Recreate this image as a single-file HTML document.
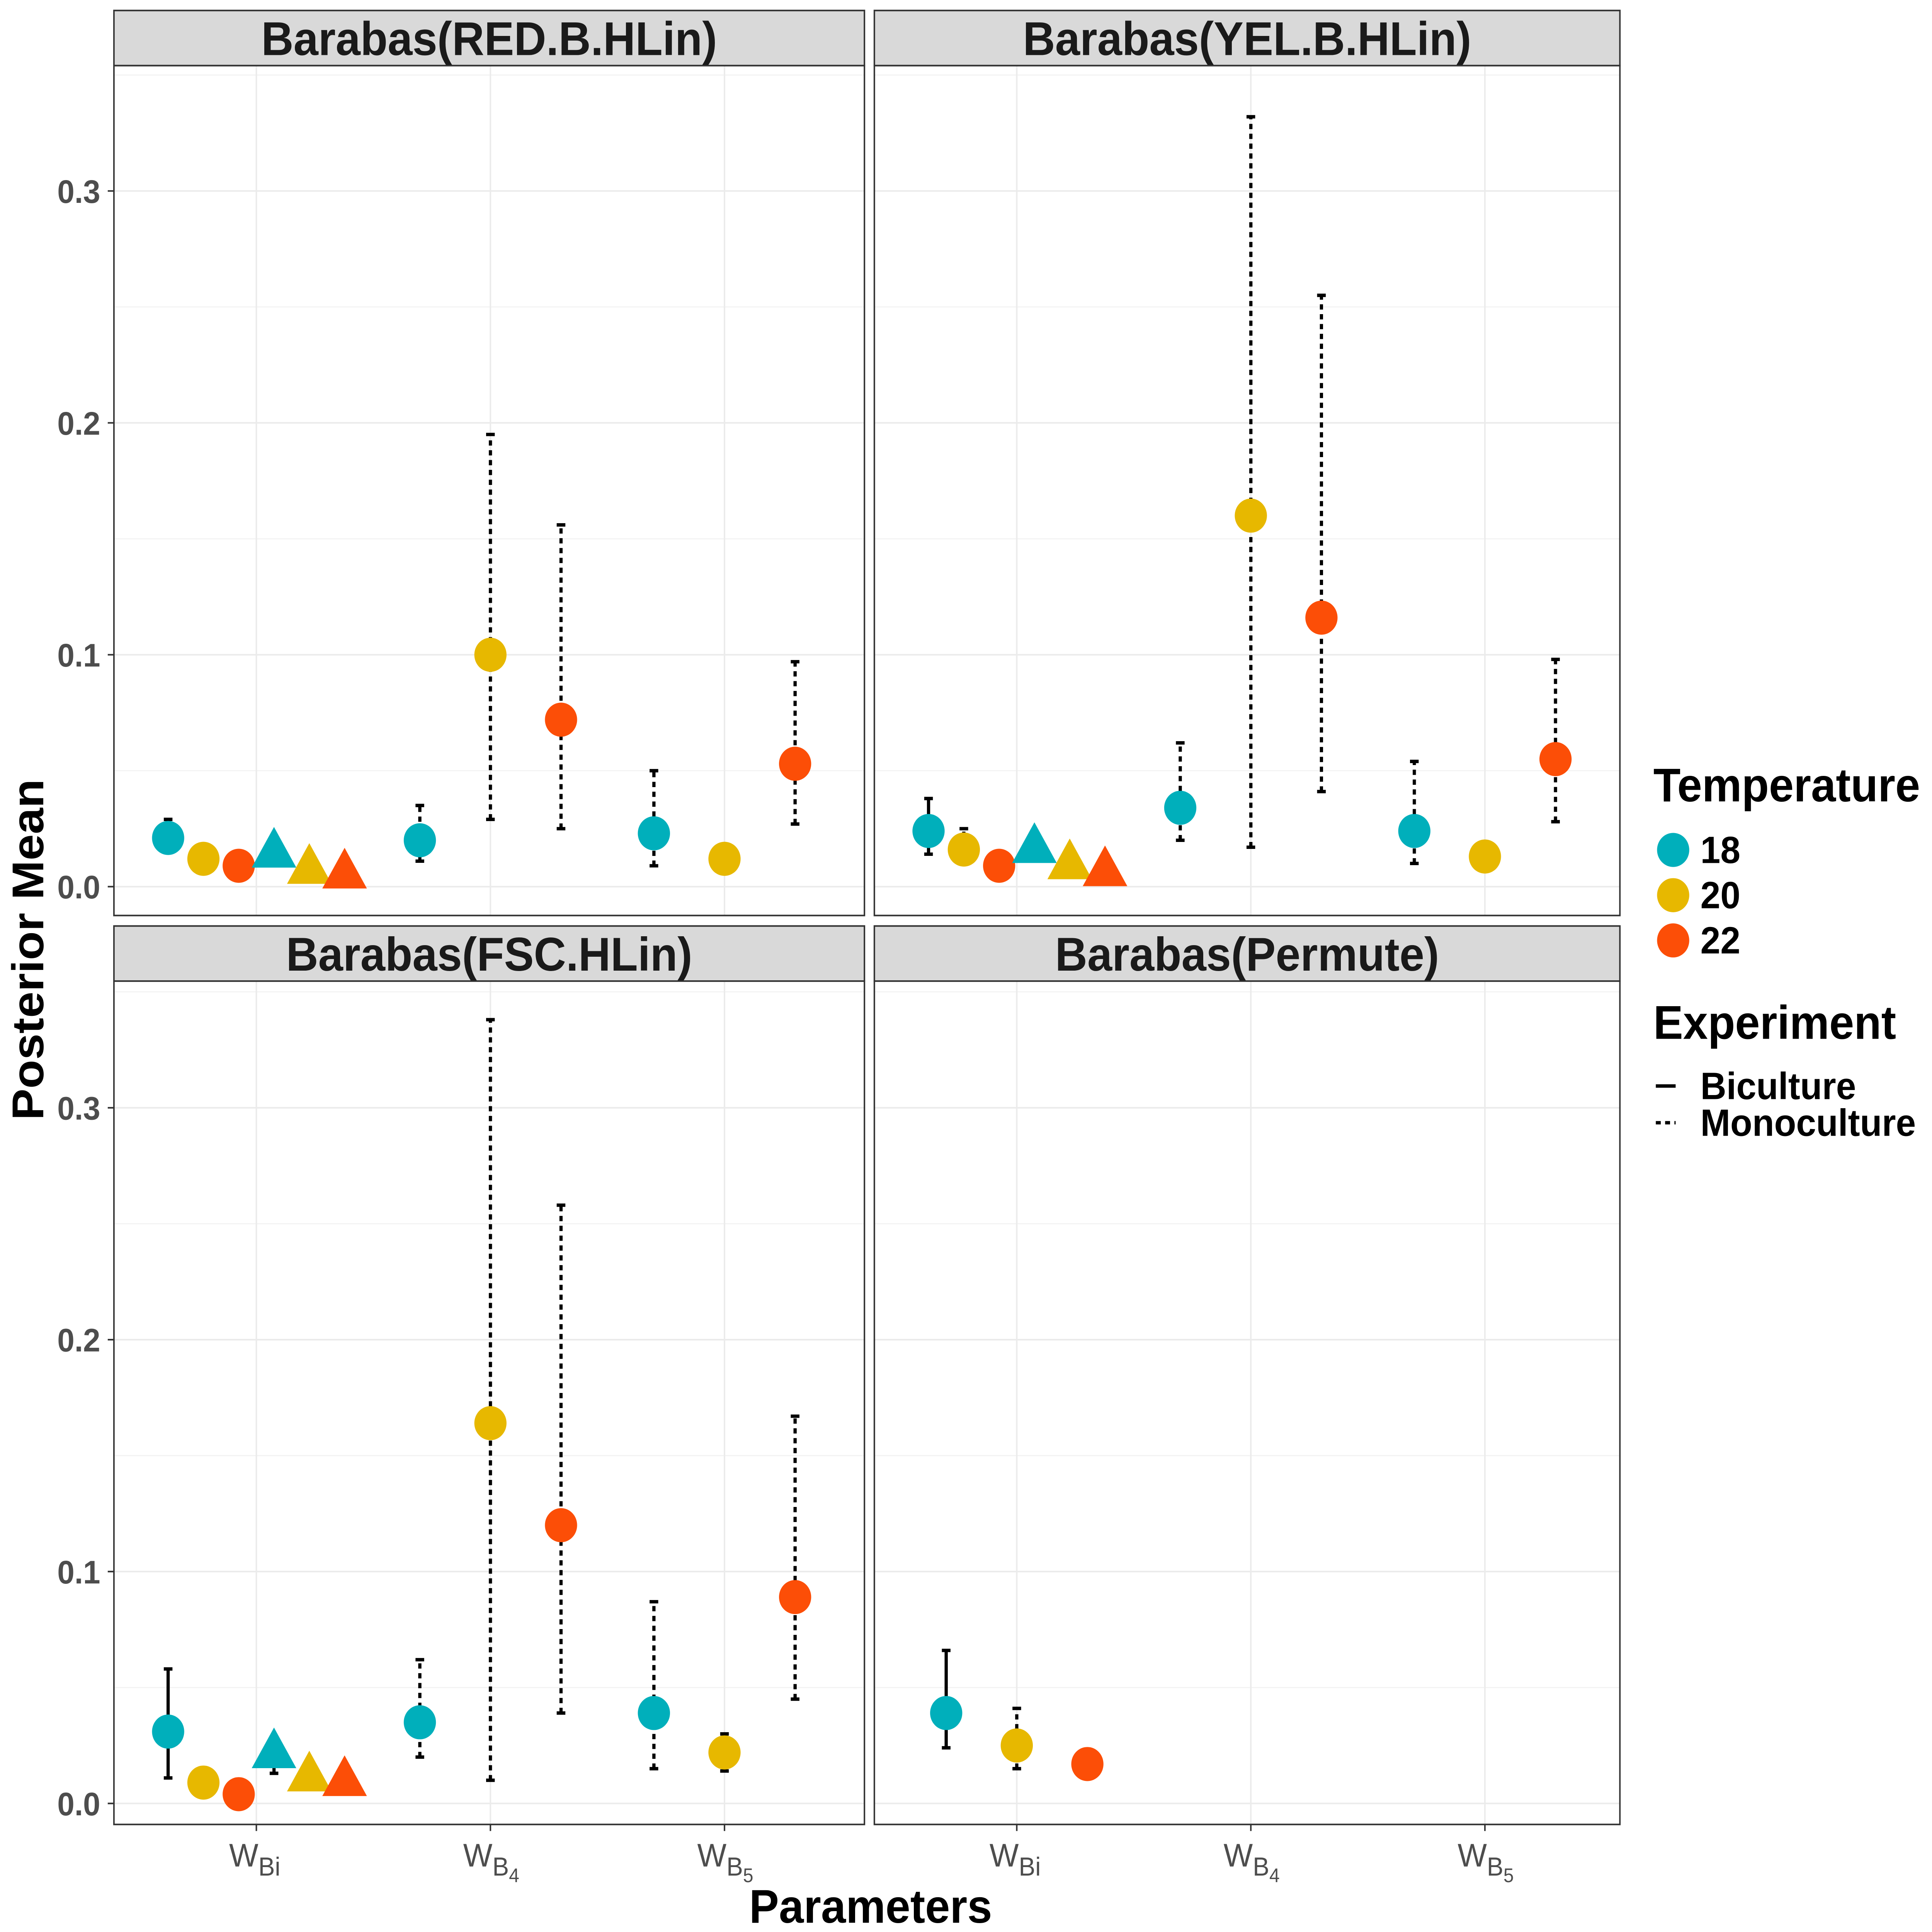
<!DOCTYPE html>
<html><head><meta charset="utf-8"><style>
html,body{margin:0;padding:0;background:#fff;width:100%;height:100%;overflow:hidden;}
svg{display:block;position:fixed;left:0;top:0;width:100vw;height:100vh;font-family:"Liberation Sans",Arial,sans-serif;}
</style></head><body>
<svg id="chart" viewBox="0 0 1560 1473" preserveAspectRatio="none" xmlns="http://www.w3.org/2000/svg"><g id="root"></g></svg>
<script>
// ---- data ----
const panelTitles = ["Barabas(RED.B.HLin)", "Barabas(YEL.B.HLin)", "Barabas(FSC.HLin)", "Barabas(Permute)"];
const paramLabels = ["Bi", "4", "5"];
const yTicks = [0.0, 0.1, 0.2, 0.3];
const yTickLabels = ["0.0", "0.1", "0.2", "0.3"];
const temps = ["18", "20", "22"];
const tempColors = ["#00AFBB", "#E7B800", "#FC4E07"];
// per-point arrays
const ptPanel = [0,0,0,0,0,0, 0,0,0, 0,0,0,  1,1,1,1,1,1, 1,1,1, 1,1,1,  2,2,2,2,2,2, 2,2,2, 2,2,2,  3,3,3];
const ptParam = [0,0,0,0,0,0, 1,1,1, 2,2,2,  0,0,0,0,0,0, 1,1,1, 2,2,2,  0,0,0,0,0,0, 1,1,1, 2,2,2,  0,0,0];
const ptSlot  = [0,1,2,3,4,5, 0,1,2, 0,1,2,  0,1,2,3,4,5, 0,1,2, 0,1,2,  0,1,2,3,4,5, 0,1,2, 0,1,2,  0,1,2];
const ptSlots = [6,6,6,6,6,6, 3,3,3, 3,3,3,  6,6,6,6,6,6, 3,3,3, 3,3,3,  6,6,6,6,6,6, 3,3,3, 3,3,3,  3,3,3];
const ptTemp  = [0,1,2,0,1,2, 0,1,2, 0,1,2,  0,1,2,0,1,2, 0,1,2, 0,1,2,  0,1,2,0,1,2, 0,1,2, 0,1,2,  0,1,2];
const ptShape = ["c","c","c","t","t","t", "c","c","c", "c","c","c",  "c","c","c","t","t","t", "c","c","c", "c","c","c",  "c","c","c","t","t","t", "c","c","c", "c","c","c",  "c","c","c"];
const ptMean  = [0.021,0.012,0.009,0.015,0.008,0.006, 0.020,0.100,0.072, 0.023,0.012,0.053,
                 0.024,0.016,0.009,0.017,0.010,0.007, 0.034,0.160,0.116, 0.024,0.013,0.055,
                 0.031,0.009,0.004,0.022,0.012,0.010, 0.035,0.164,0.120, 0.039,0.022,0.089,
                 0.039,0.025,0.017];
const ptLo    = [0.019,null,null,null,null,null, 0.011,0.029,0.025, 0.009,null,0.027,
                 0.014,0.013,null,null,null,null, 0.020,0.017,0.041, 0.010,null,0.028,
                 0.011,null,null,0.013,null,null, 0.020,0.010,0.039, 0.015,0.014,0.045,
                 0.024,0.015,null];
const ptHi    = [0.029,null,null,null,null,null, 0.035,0.195,0.156, 0.050,null,0.097,
                 0.038,0.025,null,null,null,null, 0.062,0.332,0.255, 0.054,null,0.098,
                 0.058,null,null,0.022,null,null, 0.062,0.338,0.258, 0.087,0.030,0.167,
                 0.066,0.041,null];
const ptExp   = ["B","B","B","B","B","B", "M","M","M", "M","M","M",
                 "B","M","B","B","B","B", "M","M","M", "M","M","M",
                 "B","B","B","M","B","B", "M","M","M", "M","M","M",
                 "B","M","B"];

// ---- layout ----
const NS = "http://www.w3.org/2000/svg";
const svg = document.getElementById("root");
const panels = [
  {x0:92, x1:698, y0:50, y1:698, sy:8, zero:676},
  {x0:706, x1:1308, y0:50, y1:698, sy:8, zero:676},
  {x0:92, x1:698, y0:748, y1:1391, sy:706, zero:1375},
  {x0:706, x1:1308, y0:748, y1:1391, sy:706, zero:1375}
];
const PER = 1768; // px per unit
function yScale(p, v){ return panels[p].zero - v*PER; }
function xCat(p, i){ return panels[p].x0 + 115 + i*189; }
function xDodge(p, i, slot, n){ const step = n===6 ? 28.5 : 57; return xCat(p,i) + (slot - (n-1)/2)*step; }
function mk(tag, attrs, parent){ const e=document.createElementNS(NS,tag); for(const k in attrs) e.setAttribute(k,attrs[k]); (parent||svg).appendChild(e); return e; }

panels.forEach((P, pi) => {
  const g = mk("g", {});
  
  
  mk("rect", {x:P.x0, y:P.y0, width:P.x1-P.x0, height:P.y1-P.y0, fill:"#fff"}, g);
  [0.05,0.15,0.25,0.35].forEach(v => { const y=yScale(pi,v); if(y>P.y0) mk("line",{x1:P.x0,x2:P.x1,y1:y,y2:y,stroke:"#f2f2f2","stroke-width":0.8},g); });
  yTicks.forEach(v => { const y=yScale(pi,v); mk("line",{x1:P.x0,x2:P.x1,y1:y,y2:y,stroke:"#ebebeb","stroke-width":1.2},g); });
  paramLabels.forEach((l,i) => { const x=xCat(pi,i); mk("line",{x1:x,x2:x,y1:P.y0,y2:P.y1,stroke:"#ebebeb","stroke-width":1.2},g); });
  mk("rect", {x:P.x0, y:P.y0, width:P.x1-P.x0, height:P.y1-P.y0, fill:"none", stroke:"#333", "stroke-width":1.2}, g);
  const s = mk("rect", {x:P.x0, y:P.sy, width:P.x1-P.x0, height:P.y0-P.sy, fill:"#d9d9d9", stroke:"#333", "stroke-width":1.2}, g);
  
  
  const t = mk("text", {x:(P.x0+P.x1)/2, y:P.y0-8, "text-anchor":"middle", "font-size":36, "font-weight":"bold", fill:"#1a1a1a"}, g);
  t.textContent = panelTitles[pi];
  
  
  if (pi===0 || pi===2) {
    yTicks.forEach((v,k) => {
      const y=yScale(pi,v);
      mk("line",{x1:P.x0-5,x2:P.x0,y1:y,y2:y,stroke:"#333","stroke-width":1.2},g);
      const tl = mk("text",{x:P.x0-11,y:y+9,"text-anchor":"end","font-size":25,"font-weight":"bold",fill:"#4d4d4d"},g);
      tl.textContent = yTickLabels[k];
      
      
    });
  }
  if (pi>=2) {
    paramLabels.forEach((l,i) => {
      const x=xCat(pi,i);
      mk("line",{x1:x,x2:x,y1:P.y1,y2:P.y1+5,stroke:"#333","stroke-width":1.2},g);
      const tl = mk("text",{x:x-22,y:P.y1+32,"font-size":25,fill:"#4d4d4d"},g);
      
      
      const a = document.createElementNS(NS,"tspan"); a.textContent="W"; tl.appendChild(a);
      const b = document.createElementNS(NS,"tspan"); b.setAttribute("dy","7"); b.setAttribute("font-size","20"); b.textContent="B"; tl.appendChild(b);
      if (l==="Bi") { const c=document.createElementNS(NS,"tspan"); c.setAttribute("font-size","20"); c.textContent="i"; tl.appendChild(c); }
      else { const c=document.createElementNS(NS,"tspan"); c.setAttribute("dy","5"); c.setAttribute("font-size","15"); c.textContent=l; tl.appendChild(c); }
    });
  }
});

ptMean.forEach((m, k) => {
  const p = ptPanel[k];
  const x = xDodge(p, ptParam[k], ptSlot[k], ptSlots[k]);
  if (ptLo[k] !== null) {
    const eb = mk("g", {stroke:"#000","stroke-width":2.6});
    
    
    const yl=yScale(p,ptLo[k]), yh=yScale(p,ptHi[k]);
    const dash = ptExp[k]==="M" ? {"stroke-dasharray":"4,3.5"} : {};
    mk("line", Object.assign({x1:x,x2:x,y1:yl,y2:yh}, dash), eb);
    mk("line", {x1:x-3.5,x2:x+3.5,y1:yl,y2:yl}, eb);
    mk("line", {x1:x-3.5,x2:x+3.5,y1:yh,y2:yh}, eb);
  }
});
ptMean.forEach((m, k) => {
  const p = ptPanel[k];
  const x = xDodge(p, ptParam[k], ptSlot[k], ptSlots[k]);
  const y = yScale(p, m);
  let el;
  if (ptShape[k]==="c") el = mk("circle", {cx:x, cy:y, r:13, fill:tempColors[ptTemp[k]]});
  else el = mk("polygon", {points:`${x},${y-19} ${x-18},${y+12} ${x+18},${y+12}`, fill:tempColors[ptTemp[k]]});
  
  
});

let at = mk("text", {x:703, y:1466, "text-anchor":"middle", "font-size":36, "font-weight":"bold", fill:"#000"});
at.textContent = "Parameters";


at = mk("text", {x:0, y:0, transform:"translate(35,724) rotate(-90)", "text-anchor":"middle", "font-size":36, "font-weight":"bold", fill:"#000"});
at.textContent = "Posterior Mean";



const lg = mk("g", {});


let lt = mk("text", {x:1335, y:611, "font-size":36, "font-weight":"bold", fill:"#000"}, lg);
lt.textContent = "Temperature";


temps.forEach((t, i) => {
  const y = 648 + i*34.5;
  const c = mk("circle", {cx:1351, cy:y, r:13, fill:tempColors[i]}, lg);
  
  
  const tx = mk("text", {x:1373, y:y+10, "font-size":29, "font-weight":"bold", fill:"#000"}, lg);
  tx.textContent = t;
  
  
});
lt = mk("text", {x:1335, y:792, "font-size":36, "font-weight":"bold", fill:"#000"}, lg);
lt.textContent = "Experiment";


[["Biculture",null],["Monoculture","4,3.5"]].forEach((e, i) => {
  const y = 828 + i*28;
  const a = {x1:1337, x2:1353, y1:y, y2:y, stroke:"#000", "stroke-width":2.6};
  if (e[1]) a["stroke-dasharray"] = e[1];
  const l = mk("line", a, lg);
  
  
  const tx = mk("text", {x:1373, y:y+10, "font-size":29, "font-weight":"bold", fill:"#000"}, lg);
  tx.textContent = e[0];
  
  
});
</script>
</body></html>
